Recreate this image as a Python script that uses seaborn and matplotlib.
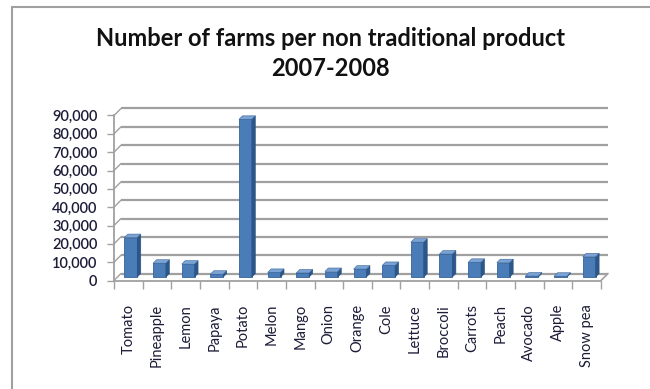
import matplotlib
matplotlib.use("Agg")
import matplotlib.pyplot as plt
import seaborn as sns
import pandas as pd
from matplotlib.patches import Polygon
from matplotlib.lines import Line2D
from matplotlib.transforms import ScaledTranslation, IdentityTransform
from matplotlib.ticker import FuncFormatter, FixedLocator

products = ["Tomato", "Pineapple", "Lemon", "Papaya", "Potato", "Melon", "Mango",
            "Onion", "Orange", "Cole", "Lettuce", "Broccoli", "Carrots", "Peach",
            "Avocado", "Apple", "Snow pea"]
farms = [21500, 7500, 7000, 1500, 86000, 2500, 2200, 3000, 4300, 6300, 19000,
         12500, 8000, 7800, 500, 400, 11000]
y_ticks = [0, 10000, 20000, 30000, 40000, 50000, 60000, 70000, 80000, 90000]
title_lines = ["Number of farms per non traditional product", "2007-2008"]

DPI = 100
W, H = 650, 389
sns.set_theme(style="white")
plt.rcParams["font.family"] = ["Lato", "DejaVu Sans"]

fig = plt.figure(figsize=(W / DPI, H / DPI), dpi=DPI)
fig.patch.set_facecolor("white")
ax = fig.add_axes([114 / W, 1 - 280.5 / H, (601 - 114) / W, (280.5 - 115.5) / H])
ax.set_facecolor("none")

df = pd.DataFrame({"product": products, "farms": farms})
sns.barplot(data=df, x="product", y="farms", color="#4a7cb8", saturation=1,
            width=0.45, edgecolor="#35639a", linewidth=0.6, ax=ax, zorder=3)

n = len(products)
ax.set_xlim(-0.5, n - 0.5)
ax.set_ylim(0, 90000)

# depth of the wall / floor in pixels
wdx, wdy = 7, 7
grid_c = "#a0a0a0"
back = ax.transData + ScaledTranslation(wdx / DPI, wdy / DPI, fig.dpi_scale_trans)

# back-wall gridlines and left-wall connectors
for v in y_ticks:
    ax.plot([-0.5, n - 0.5], [v, v], color=grid_c, lw=1.6, transform=back,
            clip_on=False, zorder=1, solid_capstyle="butt")
    p0 = ax.transData.transform((-0.5, v))
    ax.add_artist(Line2D([p0[0], p0[0] + wdx], [p0[1], p0[1] + wdy], color=grid_c,
                         lw=1.0, transform=IdentityTransform(), clip_on=False))
# floor: front edge is the bottom spine, right diagonal closes it
pr = ax.transData.transform((n - 0.5, 0))
ax.add_artist(Line2D([pr[0], pr[0] + wdx], [pr[1], pr[1] + wdy], color=grid_c,
                     lw=1.2, transform=IdentityTransform(), clip_on=False))

# bars: shift fronts to mid-depth and add side / top faces
fdx, fdy = 2.5, 3.5
bdx, bdy = 3.5, 3.5
front = ax.transData + ScaledTranslation(fdx / DPI, fdy / DPI, fig.dpi_scale_trans)
for bar in list(ax.patches):
    bar.set_transform(front)
    x0, y0 = ax.transData.transform((bar.get_x(), 0))
    x1, y1 = ax.transData.transform((bar.get_x() + bar.get_width(), bar.get_height()))
    x0 += fdx; x1 += fdx; y0 += fdy; y1 += fdy
    side = Polygon([(x1, y0), (x1 + bdx, y0 + bdy), (x1 + bdx, y1 + bdy), (x1, y1)],
                   closed=True, facecolor="#2b578a", edgecolor="#284f7e", lw=0.4,
                   transform=IdentityTransform(), zorder=4, clip_on=False)
    top = Polygon([(x0, y1), (x1, y1), (x1 + bdx, y1 + bdy), (x0 + bdx, y1 + bdy)],
                  closed=True, facecolor="#7aa2d3", edgecolor="#35639a", lw=0.4,
                  transform=IdentityTransform(), zorder=4, clip_on=False)
    ax.add_patch(side)
    ax.add_patch(top)

# axes styling
for s in ["top", "right"]:
    ax.spines[s].set_visible(False)
for s in ["left", "bottom"]:
    ax.spines[s].set_color(grid_c)
    ax.spines[s].set_linewidth(1.3)
    ax.spines[s].set_zorder(2)

label_c = "#1c1c38"
ax.yaxis.set_major_locator(FixedLocator(y_ticks))
ax.yaxis.set_major_formatter(FuncFormatter(lambda v, p: f"{int(v):,}"))
ax.tick_params(axis="y", direction="out", length=5, width=1.0, color=grid_c,
               labelsize=10.5, labelcolor=label_c, pad=7, left=True)
for t in ax.get_yticklabels():
    t.set_fontweight("semibold")
ax.set_xticks(range(n))
ax.set_xticklabels(products, rotation=90, fontsize=10.5, color=label_c)
ax.tick_params(axis="x", which="major", length=0, pad=17)
ax.set_xticks([i - 0.5 for i in range(n + 1)], minor=True)
ax.tick_params(axis="x", which="minor", direction="out", length=6, width=1.0,
               color=grid_c, bottom=True)
ax.set_xlabel("")
ax.set_ylabel("")

for i, line in enumerate(title_lines):
    fig.text(330 / W, 1 - (38 + 30 * i) / H, line, ha="center", va="center",
             fontsize=17, fontweight="bold", color="#111111")

# chart frame
fig.add_artist(Line2D([12 / W, 12 / W], [0, 1 - 7 / H], color="#a0a0a0", lw=1.5,
                      transform=fig.transFigure))
fig.add_artist(Line2D([12 / W, 1], [1 - 7 / H, 1 - 7 / H], color="#a0a0a0", lw=1.5,
                      transform=fig.transFigure))

fig.savefig("out.png", dpi=DPI)
